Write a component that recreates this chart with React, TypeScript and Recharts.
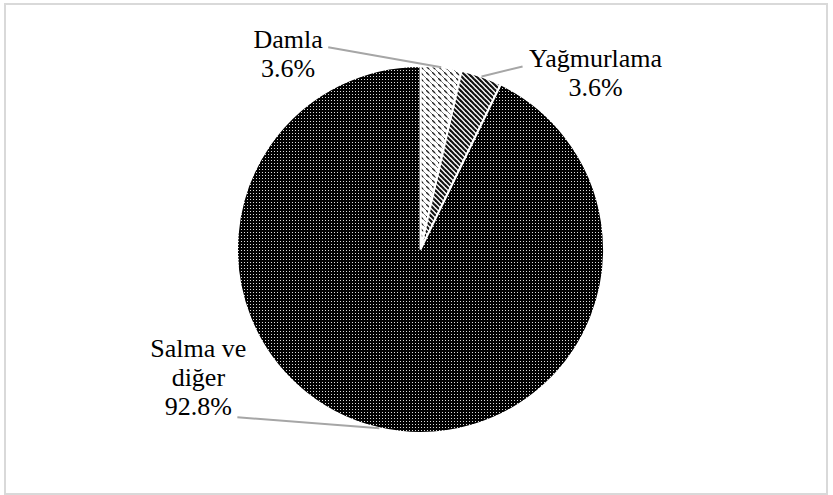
import { PieChart, Pie, Cell } from 'recharts';

const categories = ['Damla', 'Yağmurlama', 'Salma ve diğer'];
const shares = [3.6, 3.6, 92.8];
const shareLabels = ['3.6%', '3.6%', '92.8%'];

const data = categories.map((name, i) => ({ name, value: shares[i] }));

const fills = ['url(#patDamla)', 'url(#patYag)', 'url(#patSalma)'];

// label placement relative to the slice edge point
const labelOffsets = [
  { tx: -153, ty: -19, lx: -113, ly: -20 },
  { tx: 114, ty: -9, lx: 41, ly: -10 },
  { tx: -181, ty: -71, lx: -142, ly: -11 },
];

const RAD = Math.PI / 180;

const labelCss = `
  .pie-lbl, .pie-lbl * { font-family: "Liberation Serif", serif !important; font-weight: 400 !important; font-size: 26px !important; }
`;

const renderLabel = (props: any) => {
  const { cx, cy, midAngle, outerRadius, index } = props;
  const ex = cx + outerRadius * Math.cos(-midAngle * RAD);
  const ey = cy + outerRadius * Math.sin(-midAngle * RAD);
  const o = labelOffsets[index];
  const lines = index === 2 ? ['Salma ve', 'diğer', shareLabels[index]] : [categories[index], shareLabels[index]];
  return (
    <g key={`lab-${index}`}>
      <line x1={ex} y1={ey} x2={ex + o.lx} y2={ey + o.ly} stroke="#a6a6a6" strokeWidth={2} />
      {lines.map((t, i) => (
        <text
          key={i}
          className="pie-lbl"
          x={ex + o.tx}
          y={ey + o.ty + i * 29}
          textAnchor="middle"
          fill="#000"
          stroke="none"
        >
          {t}
        </text>
      ))}
    </g>
  );
};

export default function App() {
  return (
    <div style={{ position: 'absolute', left: 0, top: 0, width: 833, height: 495, background: '#fff' }}>
      <style>{labelCss}</style>
      <div
        style={{
          position: 'absolute',
          left: 4,
          top: 3,
          width: 820,
          height: 488,
          border: '2px solid #d9d9d9',
        }}
      />
      <PieChart width={833} height={495} style={{ position: 'absolute', left: 0, top: 0 }}>
        <defs>
          <pattern id="patSalma" width="3" height="3" patternUnits="userSpaceOnUse">
            <rect width="3" height="3" fill="#000" />
            <rect x="1" y="1" width="1" height="1" fill="#ddd" />
          </pattern>
          <pattern id="patDamla" width="6" height="6" patternUnits="userSpaceOnUse">
            <rect width="6" height="6" fill="#fff" />
            <line x1="0" y1="0" x2="3" y2="3" stroke="#222" strokeWidth="1.3" />
            <line x1="3" y1="3" x2="6" y2="6" stroke="#222" strokeWidth="0.6" />
          </pattern>
          <pattern id="patYag" width="5" height="5" patternUnits="userSpaceOnUse">
            <rect width="5" height="5" fill="#fff" />
            <line x1="-1" y1="-1" x2="6" y2="6" stroke="#111" strokeWidth="2.2" />
            <line x1="-1" y1="4" x2="1" y2="6" stroke="#111" strokeWidth="2.2" />
            <line x1="4" y1="-1" x2="6" y2="1" stroke="#111" strokeWidth="2.2" />
          </pattern>
        </defs>
        <Pie
          data={data}
          dataKey="value"
          nameKey="name"
          cx={415.5}
          cy={244.5}
          outerRadius={183.5}
          startAngle={90}
          endAngle={-270}
          stroke="#fff"
          strokeWidth={2}
          label={renderLabel}
          labelLine={false}
          isAnimationActive={false}
        >
          {data.map((d, i) => (
            <Cell key={d.name} fill={fills[i]} />
          ))}
        </Pie>
      </PieChart>
    </div>
  );
}
